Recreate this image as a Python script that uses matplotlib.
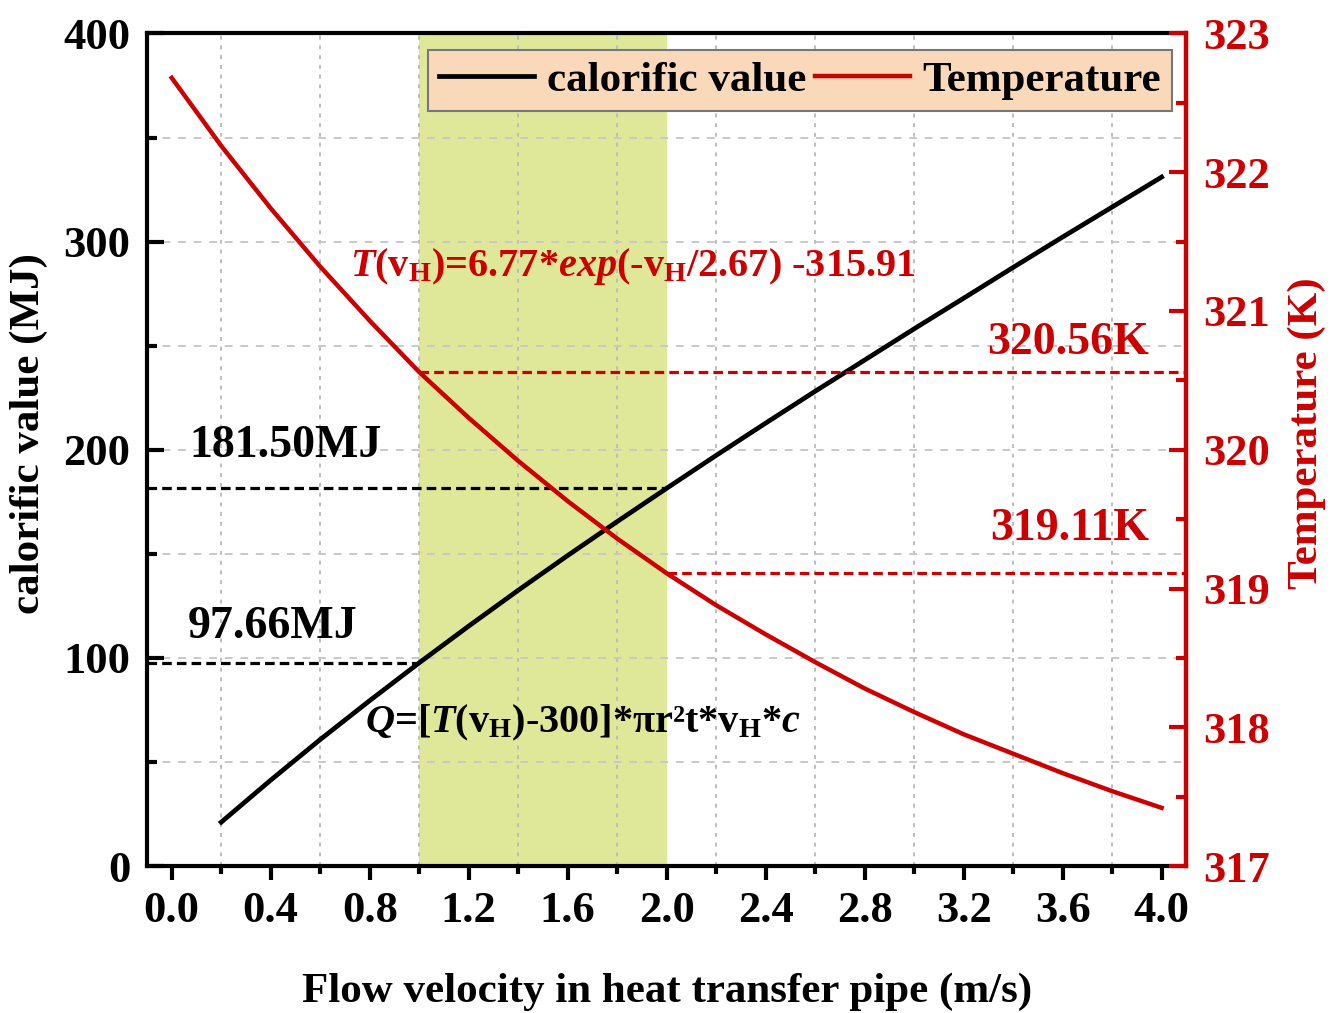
import matplotlib

matplotlib.use("Agg")
import matplotlib.pyplot as plt
from matplotlib.ticker import MultipleLocator, FixedLocator

# values
velocity = [0.0, 0.2, 0.4, 0.6, 0.8, 1.0, 1.2, 1.4, 1.6, 1.8, 2.0,
            2.2, 2.4, 2.6, 2.8, 3.0, 3.2, 3.4, 3.6, 3.8, 4.0]
temperature = [322.68, 322.19, 321.74, 321.32, 320.93, 320.56, 320.23, 319.92,
               319.63, 319.36, 319.11, 318.88, 318.67, 318.47, 318.28, 318.11,
               317.95, 317.81, 317.67, 317.54, 317.42]
calorific_v = velocity[1:]
calorific = [21.1, 41.3, 60.8, 79.5, 97.66, 115.3, 132.5, 149.2, 165.5, 181.5,
             197.3, 212.8, 228.1, 243.1, 258.1, 272.8, 287.6, 302.2, 316.6, 331.0]

band = (1.0, 2.0)
q_marks = [(1.0, 97.66), (2.0, 181.50)]
t_marks = [(1.0, 320.56), (2.0, 319.11)]

RED = "#cc0000"
FONT = "Liberation Serif"

plt.rcParams["font.family"] = FONT
plt.rcParams["font.weight"] = "bold"
plt.rcParams["axes.labelweight"] = "bold"
plt.rcParams["mathtext.fontset"] = "custom"
plt.rcParams["mathtext.rm"] = f"{FONT}:bold"
plt.rcParams["mathtext.it"] = f"{FONT}:italic:bold"
plt.rcParams["mathtext.bf"] = f"{FONT}:bold"

fig = plt.figure(figsize=(13.36, 10.13), dpi=100)
ax = fig.add_axes([0.110, 0.145, 0.778, 0.822])
ax2 = ax.twinx()

xmin, xmax = -0.1, 4.1
ax.set_xlim(xmin, xmax)
ax.set_ylim(0, 400)
ax2.set_ylim(317, 323)

ax.axvspan(*band, color="#dfe899", zorder=0, lw=0)

# grid
ax.xaxis.set_minor_locator(FixedLocator([0.2 + 0.4 * i for i in range(10)]))
ax.xaxis.set_major_locator(MultipleLocator(0.4))
ax.yaxis.set_major_locator(MultipleLocator(100))
ax.yaxis.set_minor_locator(MultipleLocator(50))
ax.grid(which="minor", axis="x", color="#bdbdbd", ls=(0, (2, 3)), lw=1.4)
ax.grid(which="both", axis="y", color="#c8c8c8", ls=(0, (4, 4)), lw=1.4)

ax.plot(calorific_v, calorific, color="black", lw=3.4, zorder=3, label="calorific value")
ax2.plot(velocity, temperature, color=RED, lw=3.2, zorder=3, label="Temperature")

for v, q in q_marks:
    ax.plot([xmin, v], [q, q], color="black", ls=(0, (3, 1.6)), lw=2.3)
for v, t in t_marks:
    ax2.plot([v, xmax], [t, t], color=RED, ls=(0, (3, 1.6)), lw=2.3)

ax.text(0.07, 202, "181.50MJ", fontsize=33, ha="left", va="center")
ax.text(0.065, 115, "97.66MJ", fontsize=33, ha="left", va="center")
ax2.text(3.95, 320.77, "320.56K", color=RED, fontsize=33, ha="right", va="center")
ax2.text(3.95, 319.43, "319.11K", color=RED, fontsize=33, ha="right", va="center")

ax.text(0.72, 288,
        r"$\mathit{T}\text{(v}_\text{H}\text{)=6.77*}\mathit{exp}\text{(-v}_\text{H}\text{/2.67) -315.91}$",
        color=RED, fontsize=29, ha="left", va="center")
ax.text(0.78, 69,
        r"$\mathit{Q}\text{=[}\mathit{T}\text{(v}_\text{H}\text{)-300]*πr²t*v}_\text{H}\text{*}\mathit{c}$",
        color="black", fontsize=29, ha="left", va="center")

# spines and ticks
for s in ["left", "bottom", "top"]:
    ax.spines[s].set_linewidth(3)
ax2.spines["right"].set_color(RED)
ax2.spines["right"].set_linewidth(3.2)
for s in ["left", "bottom", "top"]:
    ax2.spines[s].set_visible(False)
ax.spines["right"].set_visible(False)

ax.tick_params(axis="x", which="major", direction="out", length=10, width=3, labelsize=32, pad=8)
ax.tick_params(axis="x", which="minor", direction="out", length=6, width=3)
ax.tick_params(axis="y", which="major", direction="in", length=12, width=3, labelsize=32, pad=12)
ax.tick_params(axis="y", which="minor", direction="in", length=7, width=3)
ax.tick_params(top=False, which="both")
ax.set_xticks(ax.get_xticks())
ax.set_xticklabels([f"{t:.1f}" for t in ax.get_xticks()])
ax.set_xlim(xmin, xmax)

ax2.yaxis.set_major_locator(MultipleLocator(1))
ax2.yaxis.set_minor_locator(MultipleLocator(0.5))
ax2.tick_params(axis="y", which="major", direction="in", length=12, width=3,
                labelsize=32, pad=12, colors=RED)
ax2.tick_params(axis="y", which="minor", direction="in", length=7, width=3, colors=RED)

ax.set_xlabel("Flow velocity in heat transfer pipe (m/s)", fontsize=31, labelpad=30)
ax.set_ylabel("calorific value (MJ)", fontsize=31, labelpad=8)
ax2.set_ylabel("Temperature (K)", fontsize=31, color=RED, labelpad=10)
ax.yaxis.set_label_coords(-0.095, 0.52)
ax2.yaxis.set_label_coords(1.097, 0.52)

h1, l1 = ax.get_legend_handles_labels()
h2, l2 = ax2.get_legend_handles_labels()
leg = ax2.legend(h1[:1] + h2, l1[:1] + l2, ncol=2, loc="upper right",
                 bbox_to_anchor=(0.986, 0.98), borderaxespad=0, fontsize=31,
                 frameon=True, fancybox=False, handlelength=2.2, handletextpad=0.3,
                 columnspacing=0.2, borderpad=0.25)
leg.get_frame().set_facecolor("#fad9bb")
leg.get_frame().set_edgecolor("#777777")
leg.get_frame().set_linewidth(1.5)
leg.get_frame().set_alpha(1)

fig.savefig("out.png", dpi=100)
